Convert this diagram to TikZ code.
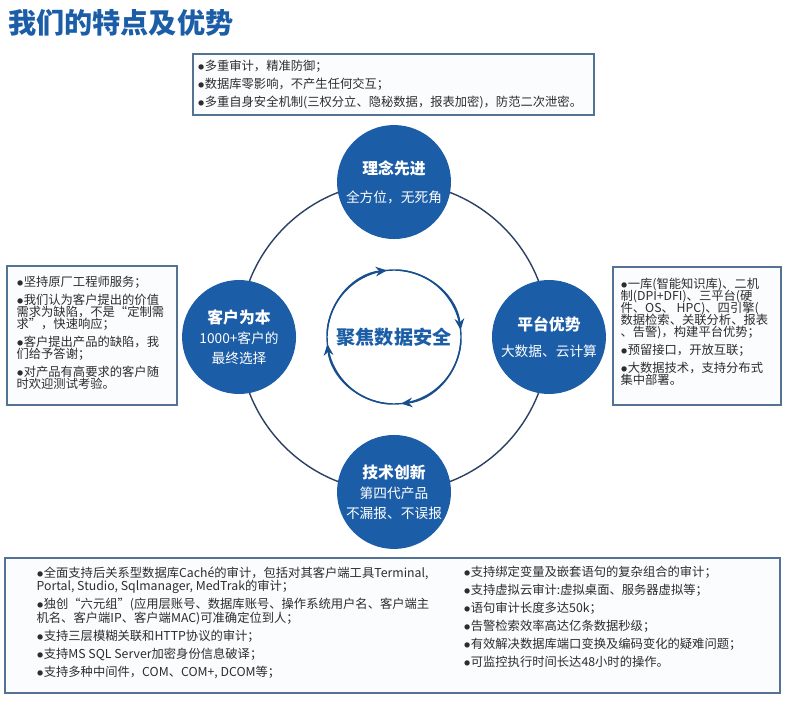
\documentclass[tikz,border=0pt]{standalone}
\usepackage{fontspec}
\setmainfont{Noto Sans CJK SC}
\usetikzlibrary{arrows.meta, positioning}
\definecolor{corpblue}{RGB}{27, 93, 166}
\definecolor{ringnavy}{RGB}{42, 64, 98}
\definecolor{framegray}{RGB}{84, 114, 148}
\definecolor{framefill}{RGB}{250, 252, 254}
\definecolor{bodytext}{RGB}{45, 45, 45}
\newcommand{\itemdot}{$\bullet$}
\newcommand{\pillarhead}{\fontsize{9}{11.5}\selectfont\bfseries}
\newcommand{\sidesize}{\fontsize{7}{6.8}\selectfont\setlength{\lineskiplimit}{-5pt}}
\tikzset{
  pillar/.style={circle, fill=corpblue, text=white, minimum size=2.28cm, inner sep=0pt,
    align=center, font=\fontsize{7.8}{11.5}\selectfont},
  notebox/.style={draw=framegray, line width=0.9pt, fill=framefill, inner sep=0pt},
  notetext/.style={anchor=north west, inner sep=0pt, align=left, text=bodytext},
  sidefont/.style={font={\sidesize}},
}

\begin{document}
\begin{tikzpicture}[x=0.02cm, y=0.02cm]
  \useasboundingbox (0,0) rectangle (786,700);

  \node[anchor=west, inner sep=0pt, text=corpblue, font=\fontsize{16}{18}\selectfont\bfseries] (title) at (8,677) {我们的特点及优势};

  \coordinate (hub) at (394,363);
  \draw[ringnavy, line width=0.8pt] (hub) circle (3.1cm);
  \draw[corpblue!85!black, line width=0.8pt] (hub) circle (1.34cm);
  \foreach \a in {96, 6, -84, -174}
    \draw[corpblue!85!black, line width=0.8pt, -{Stealth[length=6.5pt, width=5.5pt]}]
      ([shift={(\a+80:1.34cm)}]hub) arc[start angle=\a+80, end angle=\a, radius=1.34cm];
  \node[text=corpblue, font=\fontsize{10.9}{12}\selectfont\bfseries] (focus) at (hub) {聚焦数据安全};

  \node[pillar] (idea) at ([shift={(90:3.1cm)}]hub) {{\pillarhead 理念先进}\\[4.5pt]全方位，无死角};
  \node[pillar] (client) at ([shift={(180:3.1cm)}]hub) {{\pillarhead 客户为本}\\1000+客户的\\最终选择};
  \node[pillar] (platform) at ([shift={(0:3.1cm)}]hub) {{\pillarhead 平台优势}\\[3.3pt]大数据、云计算};
  \node[pillar] (tech) at ([shift={(270:3.1cm)}]hub) {{\pillarhead 技术创新}\\第四代产品\\不漏报、不误报};

  \node[notebox, minimum width=8.02cm, minimum height=1.22cm] (topbox) at (393.5,615.5) {};
  \node[notetext, font=\fontsize{7}{10.25}\selectfont] (toptext) at ([shift={(5,-7)}]topbox.north west) {
    \itemdot 多重审计，精准防御；\\
    \itemdot 数据库零影响，不产生任何交互；\\
    \itemdot 多重自身安全机制(三权分立、隐秘数据，报表加密)，防范二次泄密。};

  \node[notebox, minimum width=3.4cm, minimum height=2.78cm] (leftbox) at (92,364.5) {};
  \node[notetext, sidefont] (lefttext) at ([shift={(10,-11)}]leftbox.north west) {
    \itemdot 坚持原厂工程师服务；\\[3.4pt]
    \itemdot 我们认为客户提出的价值\\需求为缺陷，不是“定制需\\求”，快速响应；\\[3.4pt]
    \itemdot 客户提出产品的缺陷，我\\们给予答谢；\\[3.4pt]
    \itemdot 对产品有高要求的客户随\\时欢迎测试考验。};

  \node[notebox, minimum width=3.36cm, minimum height=2.76cm] (rightbox) at (697,364) {};
  \node[notetext, sidefont] (righttext) at ([shift={(8,-12)}]rightbox.north west) {
    \itemdot 一库(智能知识库)、二机\\制(DPI+DFI)、三平台(硬\\件、OS、 HPC)、四引擎(\\数据检索、关联分析、报表\\、告警)，构建平台优势；\\[3.4pt]
    \itemdot 预留接口，开放互联；\\[3.4pt]
    \itemdot 大数据技术，支持分布式\\集中部署。};

  \node[notebox, minimum width=15.5cm, minimum height=2.7cm] (bottombox) at (392.5,74.5) {};
  \node[notetext, font=\fontsize{7}{7.7}\selectfont] (featuresa) at ([shift={(32,-9)}]bottombox.north west) {
    \itemdot 全面支持后关系型数据库Caché的审计，包括对其客户端工具Terminal,\\Portal, Studio, Sqlmanager, MedTrak的审计；\\[2.5pt]
    \itemdot 独创“六元组”(应用层账号、数据库账号、操作系统用户名、客户端主\\机名、客户端IP、客户端MAC)可准确定位到人；\\[2.5pt]
    \itemdot 支持三层模糊关联和HTTP协议的审计；\\[2.5pt]
    \itemdot 支持MS SQL Server加密身份信息破译；\\[2.5pt]
    \itemdot 支持多种中间件，COM、COM+, DCOM等；};
  \node[notetext, font=\fontsize{7}{10.25}\selectfont] (featuresb) at ([shift={(459,-8)}]bottombox.north west) {
    \itemdot 支持绑定变量及嵌套语句的复杂组合的审计；\\
    \itemdot 支持虚拟云审计:虚拟桌面、服务器虚拟等；\\
    \itemdot 语句审计长度多达50k；\\
    \itemdot 告警检索效率高达亿条数据秒级；\\
    \itemdot 有效解决数据库端口变换及编码变化的疑难问题；\\
    \itemdot 可监控执行时间长达48小时的操作。};
\end{tikzpicture}
\end{document}
